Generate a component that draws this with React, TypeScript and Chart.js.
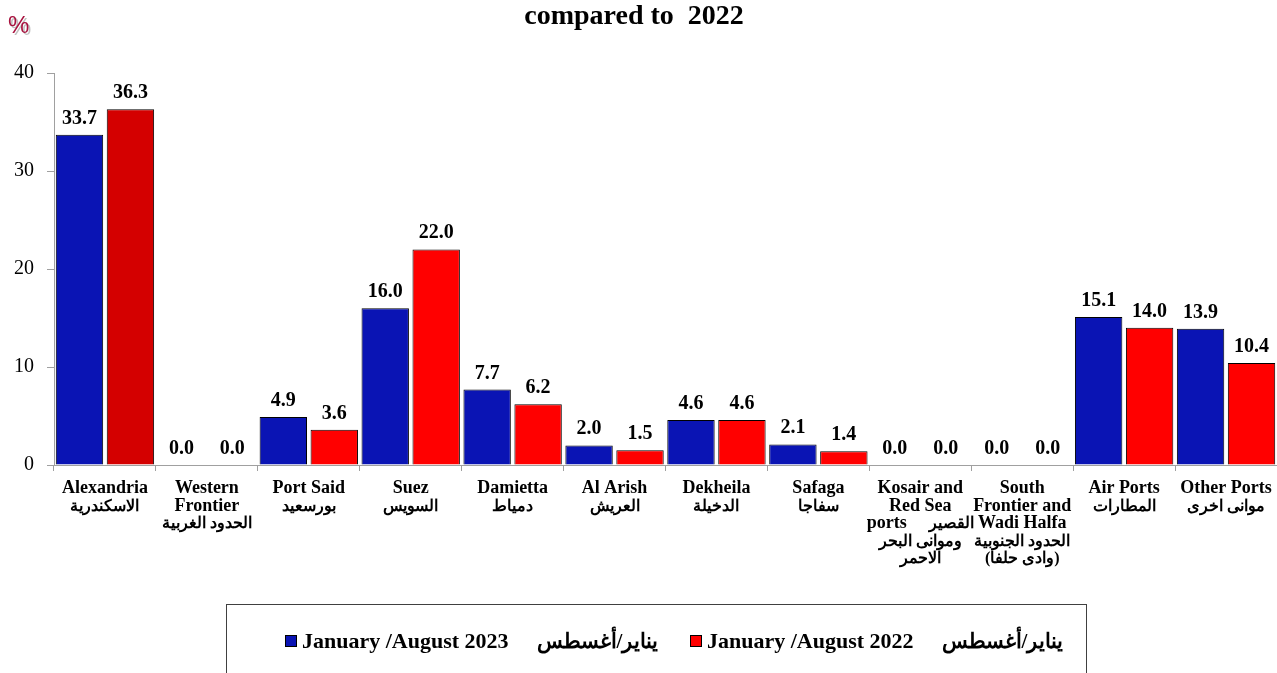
import React, { useEffect, useRef } from "react";
import { Chart, registerables } from "chart.js";

Chart.register(...registerables);

const categories: string[][] = [
  ["Alexandria", "الاسكندرية"],
  ["Western", "Frontier", "الحدود الغربية"],
  ["Port Said", "بورسعيد"],
  ["Suez", "السويس"],
  ["Damietta", "دمياط"],
  ["Al Arish", "العريش"],
  ["Dekheila", "الدخيلة"],
  ["Safaga", "سفاجا"],
  ["Kosair and", "Red Sea", "ports   القصير", "وموانى البحر", "الاحمر"],
  ["South", "Frontier and", "Wadi Halfa", "الحدود الجنوبية", "(وادى حلفا)"],
  ["Air Ports", "المطارات"],
  ["Other Ports", "موانى اخرى"],
];

const values2023 = [33.7, 0.0, 4.9, 16.0, 7.7, 2.0, 4.6, 2.1, 0.0, 0.0, 15.1, 13.9];
const values2022 = [36.3, 0.0, 3.6, 22.0, 6.2, 1.5, 4.6, 1.4, 0.0, 0.0, 14.0, 10.4];

const yMin = 0;
const yMax = 40;
const yStep = 10;

const seriesNames = ["January /August 2023", "January /August 2022"];
const seriesArabic = ["يناير/أغسطس", "يناير/أغسطس"];
const titleText = "compared to  2022";
const unitText = "%";

const BLUE = "#0a14b4";
const RED = "#ff0000";
const DARK_RED = "#d40000";
const AXIS = "#a0a0a0";
const SERIF = "'Liberation Serif', 'Times New Roman', serif";

const hasLatin = (s: string) => /[A-Za-z]/.test(s);
const LATIN_FONT = `bold 18px ${SERIF}`;
const ARABIC_FONT = `bold 16px ${SERIF}`;

const overlayPlugin = {
  id: "overlay",
  afterDraw(chart: any) {
    const ctx: CanvasRenderingContext2D = chart.ctx;
    ctx.save();

    // category labels (multi-line, Arabic lines in a smaller size)
    const xs = chart.scales.x;
    ctx.fillStyle = "#000";
    ctx.textBaseline = "alphabetic";
    categories.forEach((lines, i) => {
      const px = xs.getPixelForValue(i);
      lines.forEach((line, k) => {
        const y = xs.top + 28 + k * 17.6;
        const segs = line.split(/\s{2,}/);
        if (segs.length > 1) {
          const gap = 22;
          const widths = segs.map((s) => {
            ctx.font = hasLatin(s) ? LATIN_FONT : ARABIC_FONT;
            return ctx.measureText(s).width;
          });
          const total = widths.reduce((a, b) => a + b, 0) + gap * (segs.length - 1);
          let x = px - total / 2;
          ctx.textAlign = "left";
          segs.forEach((s, m) => {
            ctx.font = hasLatin(s) ? LATIN_FONT : ARABIC_FONT;
            ctx.fillText(s, x, y);
            x += widths[m] + gap;
          });
        } else {
          ctx.textAlign = "center";
          ctx.font = hasLatin(line) ? LATIN_FONT : ARABIC_FONT;
          ctx.fillText(line, px, y);
        }
      });
    });

    // bar value labels
    ctx.textAlign = "center";
    ctx.font = `bold 20px ${SERIF}`;
    chart.data.datasets.forEach((ds: any, i: number) => {
      const meta = chart.getDatasetMeta(i);
      meta.data.forEach((el: any, j: number) => {
        const v = ds.data[j] as number;
        ctx.fillText(v.toFixed(1), el.x, el.y - 11);
      });
    });

    // title
    ctx.font = `bold 28px ${SERIF}`;
    ctx.fillText(titleText, 634, 24);

    // unit
    ctx.font = `24px 'Liberation Sans', Arial, sans-serif`;
    ctx.textAlign = "left";
    ctx.shadowColor = "rgba(0,0,0,0.25)";
    ctx.shadowOffsetX = 2;
    ctx.shadowOffsetY = 2;
    ctx.fillStyle = "#a8123e";
    ctx.fillText(unitText, 8, 33);
    ctx.shadowColor = "transparent";

    // legend box
    ctx.strokeStyle = "#404040";
    ctx.lineWidth = 1;
    ctx.strokeRect(226.5, 604.5, 860, 120);

    const colors = [BLUE, RED];
    const starts = [285, 690];
    for (let k = 0; k < 2; k++) {
      const x0 = starts[k];
      ctx.fillStyle = colors[k];
      ctx.fillRect(x0, 635, 12, 12);
      ctx.strokeStyle = "#000";
      ctx.strokeRect(x0 + 0.5, 635.5, 11, 11);
      ctx.fillStyle = "#000";
      ctx.font = `bold 22px ${SERIF}`;
      const tx = x0 + 17;
      ctx.fillText(seriesNames[k], tx, 648);
      const w = ctx.measureText(seriesNames[k]).width;
      ctx.font = `bold 21px ${SERIF}`;
      ctx.fillText(seriesArabic[k], tx + w + 28, 648);
    }
    ctx.restore();
  },
};

export default function App() {
  const ref = useRef<HTMLCanvasElement | null>(null);

  useEffect(() => {
    if (!ref.current) return;
    const chart = new Chart(ref.current, {
      type: "bar",
      data: {
        labels: categories,
        datasets: [
          {
            label: seriesNames[0],
            data: values2023,
            backgroundColor: BLUE,
            borderColor: "#000",
            borderWidth: 1,
            barPercentage: 0.93,
            categoryPercentage: 1.0,
          },
          {
            label: seriesNames[1],
            data: values2022,
            backgroundColor: values2022.map((_, i) => (i === 0 ? DARK_RED : RED)),
            borderColor: "#000",
            borderWidth: 1,
            barPercentage: 0.93,
            categoryPercentage: 1.0,
          },
        ],
      },
      options: {
        responsive: false,
        animation: false,
        devicePixelRatio: 1,
        layout: { padding: { top: 73, right: 0, left: 0, bottom: 0 } },
        plugins: {
          legend: { display: false },
          tooltip: { enabled: false },
          title: { display: false },
        },
        scales: {
          x: {
            grid: {
              display: true,
              drawOnChartArea: false,
              drawTicks: true,
              tickLength: 6,
              color: AXIS,
              offset: true,
            },
            border: { display: true, color: AXIS, width: 1 },
            ticks: {
              display: false,
              maxRotation: 0,
              minRotation: 0,
              autoSkip: false,
            },
            afterFit: (s: any) => {
              s.height = 208;
              s.paddingLeft = 0;
              s.paddingRight = 0;
            },
          },
          y: {
            min: yMin,
            max: yMax,
            ticks: {
              stepSize: yStep,
              color: "#000",
              font: { family: SERIF, size: 20 },
              padding: 13,
            },
            grid: {
              display: true,
              drawOnChartArea: false,
              drawTicks: true,
              tickLength: 7,
              color: AXIS,
            },
            border: { display: true, color: AXIS, width: 1 },
            afterFit: (s: any) => {
              s.width = 54;
            },
          },
        },
      },
      plugins: [overlayPlugin],
    });
    return () => chart.destroy();
  }, []);

  return (
    <div
      style={{
        position: "absolute",
        left: 0,
        top: 0,
        width: 1277,
        height: 673,
        overflow: "hidden",
        background: "#fff",
      }}
    >
      <canvas ref={ref} width={1277} height={673} style={{ width: 1277, height: 673 }} />
    </div>
  );
}
